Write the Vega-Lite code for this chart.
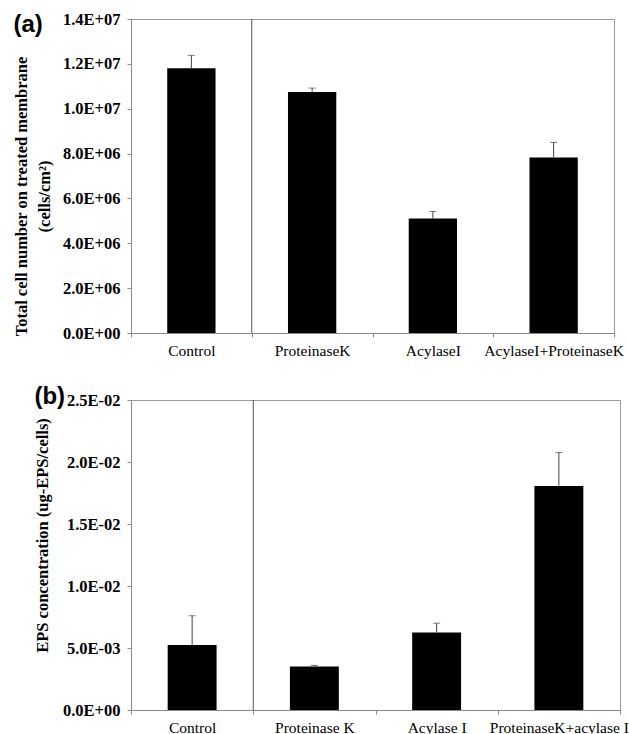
{
  "$schema": "https://vega.github.io/schema/vega-lite/v6.json",
  "background": "white",
  "padding": {"left": 12, "top": 10, "right": 5, "bottom": 0},
  "spacing": 25,
  "config": {
    "font": "Liberation Serif",
    "view": {"stroke": "#9a9a9a", "strokeWidth": 1},
    "axis": {
      "domainColor": "#8a8a8a",
      "tickColor": "#8a8a8a",
      "tickSize": 4,
      "grid": false,
      "labelFont": "Liberation Serif",
      "labelColor": "black",
      "titleFont": "Liberation Serif",
      "titleColor": "black"
    },
    "title": {"font": "Liberation Sans", "fontSize": 24, "fontWeight": "bold", "anchor": "start", "frame": "bounds", "color": "black"}
  },
  "datasets": {
    "a": [
      {"treatment": "Control", "value": 11800000, "upper": 12380000},
      {"treatment": "ProteinaseK", "value": 10750000, "upper": 10920000},
      {"treatment": "AcylaseI", "value": 5110000, "upper": 5420000},
      {"treatment": "AcylaseI+ProteinaseK", "value": 7820000, "upper": 8500000}
    ],
    "b": [
      {"treatment": "Control", "value": 0.00524, "upper": 0.0076},
      {"treatment": "Proteinase K", "value": 0.00351, "upper": 0.0036},
      {"treatment": "Acylase I", "value": 0.00625, "upper": 0.007},
      {"treatment": "ProteinaseK+acylase I", "value": 0.01807, "upper": 0.02076}
    ]
  },
  "vconcat": [
    {
      "title": {"text": "(a)", "dy": 30},
      "width": 483,
      "height": 314,
      "data": {"name": "a"},
      "encoding": {
        "x": {
          "field": "treatment", "type": "nominal",
          "scale": {"domain": ["Control", "ProteinaseK", "AcylaseI", "AcylaseI+ProteinaseK"], "paddingInner": 0, "paddingOuter": 0},
          "axis": {"title": null, "labelAngle": 0, "tickBand": "extent", "labelFontSize": 15.5, "labelPadding": 6}
        }
      },
      "layer": [
        {
          "mark": {"type": "bar", "color": "black", "width": {"band": 0.4}},
          "encoding": {
            "y": {
              "field": "value", "type": "quantitative",
              "scale": {"domain": [0, 14000000], "nice": false},
              "axis": {
                "values": [0, 2000000, 4000000, 6000000, 8000000, 10000000, 12000000, 14000000],
                "format": ".1e",
                "labelExpr": "slice(datum.label,0,indexof(datum.label,'e')) + 'E' + slice(datum.label,indexof(datum.label,'e')+1,indexof(datum.label,'e')+2) + (length(datum.label)-indexof(datum.label,'e')-2 < 2 ? '0' : '') + slice(datum.label,indexof(datum.label,'e')+2)",
                "labelFontSize": 16.5, "labelFontWeight": "bold", "labelPadding": 7,
                "title": ["Total cell number on treated membrane", "(cells/cm²)"],
                "titleFontSize": 16.5, "titleFontWeight": "bold", "titlePadding": 10, "titleLineHeight": 23,
                "titleY": 177
              }
            }
          }
        },
        {
          "mark": {"type": "rule", "color": "#444444", "strokeWidth": 1},
          "encoding": {"y": {"field": "value", "type": "quantitative"}, "y2": {"field": "upper"}}
        },
        {
          "mark": {"type": "tick", "color": "#444444", "size": 7, "thickness": 1},
          "encoding": {"y": {"field": "upper", "type": "quantitative"}}
        },
        {
          "data": {"values": [{"treatment": "ProteinaseK"}]},
          "mark": {"type": "rule", "color": "#555555", "strokeWidth": 1},
          "encoding": {"x": {"field": "treatment", "type": "nominal", "bandPosition": 0}}
        }
      ]
    },
    {
      "title": {"text": "(b)", "dy": 21},
      "width": 489,
      "height": 310,
      "data": {"name": "b"},
      "encoding": {
        "x": {
          "field": "treatment", "type": "nominal",
          "scale": {"domain": ["Control", "Proteinase K", "Acylase I", "ProteinaseK+acylase I"], "paddingInner": 0, "paddingOuter": 0},
          "axis": {"title": null, "labelAngle": 0, "tickBand": "extent", "labelFontSize": 15.5, "labelPadding": 6}
        }
      },
      "layer": [
        {
          "mark": {"type": "bar", "color": "black", "width": {"band": 0.4}},
          "encoding": {
            "y": {
              "field": "value", "type": "quantitative",
              "scale": {"domain": [0, 0.025], "nice": false},
              "axis": {
                "values": [0, 0.005, 0.01, 0.015, 0.02, 0.025],
                "format": ".1e",
                "labelExpr": "slice(datum.label,0,indexof(datum.label,'e')) + 'E' + slice(datum.label,indexof(datum.label,'e')+1,indexof(datum.label,'e')+2) + (length(datum.label)-indexof(datum.label,'e')-2 < 2 ? '0' : '') + slice(datum.label,indexof(datum.label,'e')+2)",
                "labelFontSize": 16.5, "labelFontWeight": "bold", "labelPadding": 7,
                "title": "EPS concentration (ug-EPS/cells)",
                "titleFontSize": 16.5, "titleFontWeight": "bold", "titlePadding": 12,
                "titleY": 135
              }
            }
          }
        },
        {
          "mark": {"type": "rule", "color": "#444444", "strokeWidth": 1},
          "encoding": {"y": {"field": "value", "type": "quantitative"}, "y2": {"field": "upper"}}
        },
        {
          "mark": {"type": "tick", "color": "#444444", "size": 7, "thickness": 1},
          "encoding": {"y": {"field": "upper", "type": "quantitative"}}
        },
        {
          "data": {"values": [{"treatment": "Proteinase K"}]},
          "mark": {"type": "rule", "color": "#555555", "strokeWidth": 1},
          "encoding": {"x": {"field": "treatment", "type": "nominal", "bandPosition": 0}}
        }
      ]
    }
  ]
}
